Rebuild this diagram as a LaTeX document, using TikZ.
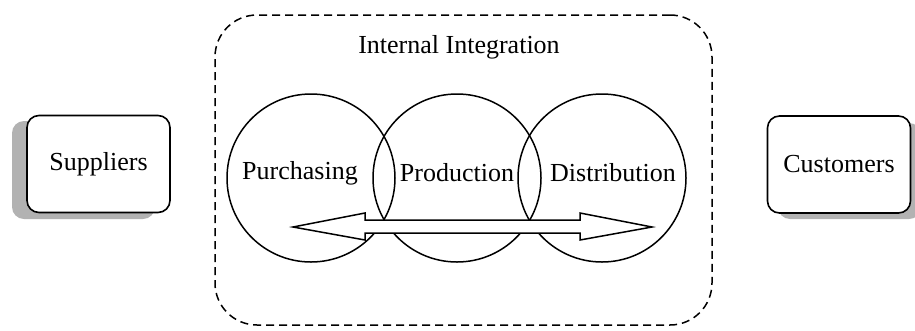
\documentclass[tikz,border=0pt]{standalone}
\usepackage{fontspec}
\setmainfont{Liberation Serif}
\begin{document}
\begin{tikzpicture}[x=1pt,y=-1pt,
  lbl/.style={font=\fontsize{26}{30}\selectfont, inner sep=0pt},
  partner/.style={draw, line width=1.6pt, rounded corners=12pt, fill=white,
    minimum width=143pt, minimum height=97pt, inner sep=0pt,
    font=\fontsize{26}{30}\selectfont},
  shade/.style={fill=gray!60, rounded corners=12pt},
  func/.style={draw, circle, line width=1.5pt, minimum size=168pt, inner sep=0pt},
  flow/.style={draw, line width=1.5pt, fill=white, line join=miter}]
\useasboundingbox (0,0) rectangle (915,330);

% internal integration boundary
\node[draw, dashed, dash pattern=on 8pt off 5pt, line width=1.5pt,
      rounded corners=42pt, minimum width=497pt, minimum height=310pt,
      inner sep=0pt] (internal) at (463.5,170) {};
\node[lbl] (title) at (459,47) {Internal Integration};

% suppliers with shadow
\fill[shade] (12,121) rectangle (155,219);
\node[partner] (suppliers) at (98.5,164) {Suppliers};

% customers with shadow
\fill[shade] (778,123) rectangle (921,219);
\node[partner] (customers) at (839,164.5) {Customers};

% functional circles
\node[func] (purch) at (311,178) {};
\node[func] (prod)  at (457,178) {};
\node[func] (dist)  at (602,178) {};

% two-headed flow arrow across the functions
\coordinate (ltip) at (293,227);
\coordinate (rtip) at (652,227);
\path[flow] (ltip) -- (365,213) -- (365,220) -- (580,220) -- (580,213)
  -- (rtip) -- (580,240) -- (580,233) -- (365,233) -- (365,240) -- cycle;

% function labels
\node[lbl] (purchL) at (300,173) {Purchasing};
\node[lbl] (prodL)  at (457,173) {Production};
\node[lbl] (distL)  at (613,173) {Distribution};
\end{tikzpicture}
\end{document}
